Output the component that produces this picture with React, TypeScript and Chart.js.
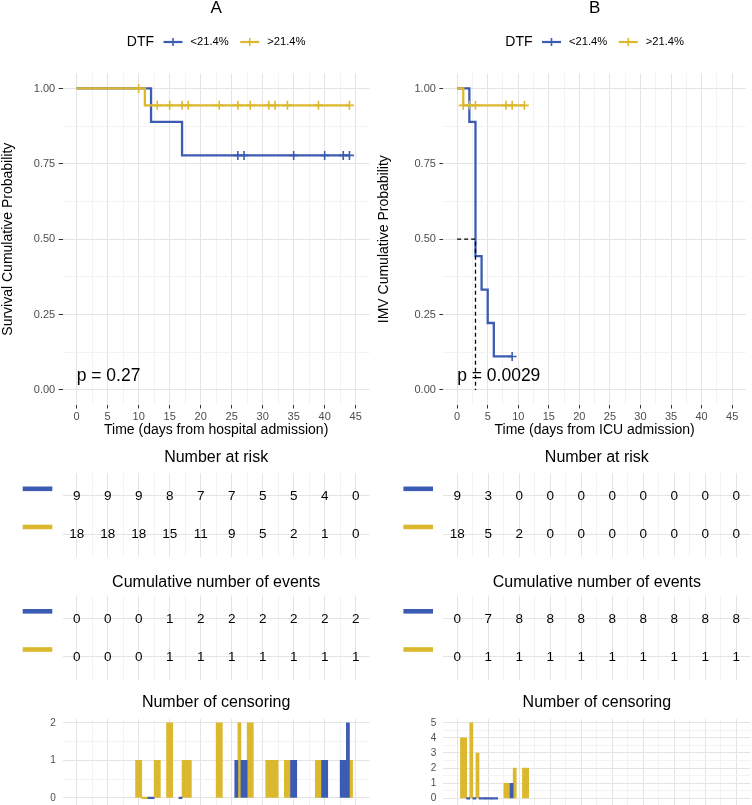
import React, { useEffect, useRef } from 'react';
import { Chart, registerables } from 'chart.js';

Chart.register(...registerables);

const FONT = '"Liberation Sans", Arial, Helvetica, sans-serif';
Chart.defaults.font.family = FONT;

const BLUE = '#3C5CB3';
const YELLOW = '#DBB82D';
const GRID_MAJOR = '#E4E4E4';
const GRID_MINOR = '#F0F0F0';
const AXIS_TEXT = '#4D4D4D';
const TICK_MARK = '#333333';

// ---------- shared labels / breaks ----------
const legendTitle = 'DTF';
const strataLabels = ['<21.4%', '>21.4%'];
const timeBreaks = [0, 5, 10, 15, 20, 25, 30, 35, 40, 45];
const survBreaks = [0, 0.25, 0.5, 0.75, 1];

// ---------- Panel A (hospital admission) ----------
const aTitle = 'A';
const aYTitle = 'Survival Cumulative Probability';
const aXTitle = 'Time (days from hospital admission)';
const aPText = 'p = 0.27';
const aBlueKmTimes = [0, 12, 17, 44];
const aBlueKmSurv = [1, 0.889, 0.778, 0.778];
const aYellowKmTimes = [0, 11, 44];
const aYellowKmSurv = [1, 0.944, 0.944];
const aBlueCensorTimes = [26, 27, 35, 40, 43, 44];
const aBlueCensorSurv = [0.778, 0.778, 0.778, 0.778, 0.778, 0.778];
const aYellowCensorTimes = [10, 13, 15, 17, 18, 23, 26, 28, 31, 32, 34, 39, 44];
const aYellowCensorSurv = [1, 0.944, 0.944, 0.944, 0.944, 0.944, 0.944, 0.944, 0.944, 0.944, 0.944, 0.944, 0.944];
const aRiskBlue = [9, 9, 9, 8, 7, 7, 5, 5, 4, 0];
const aRiskYellow = [18, 18, 18, 15, 11, 9, 5, 2, 1, 0];
const aEventsBlue = [0, 0, 0, 1, 2, 2, 2, 2, 2, 2];
const aEventsYellow = [0, 0, 0, 1, 1, 1, 1, 1, 1, 1];
const aCensorTimes = [10, 11, 12, 13, 15, 17, 18, 23, 26, 27, 28, 31, 32, 34, 35, 39, 40, 43, 44];
const aCensorBlue = [null, null, 0, null, null, 0, null, null, 1, 1, null, null, null, null, 1, null, 1, 1, 2];
const aCensorYellow = [1, 0, null, 1, 2, 1, 1, 2, 2, null, 2, 1, 1, 1, null, 1, null, null, 1];
const aCensorBreaks = [0, 1, 2];

// ---------- Panel B (ICU admission) ----------
const bTitle = 'B';
const bYTitle = 'IMV Cumulative Probability';
const bXTitle = 'Time (days from ICU admission)';
const bPText = 'p = 0.0029';
const bBlueKmTimes = [0, 2, 3, 4, 5, 6, 9];
const bBlueKmSurv = [1, 0.889, 0.444, 0.333, 0.222, 0.111, 0.111];
const bYellowKmTimes = [0, 1, 11];
const bYellowKmSurv = [1, 0.944, 0.944];
const bBlueCensorTimes = [9];
const bBlueCensorSurv = [0.111];
const bYellowCensorTimes = [1, 2, 3, 8, 9, 11];
const bYellowCensorSurv = [0.944, 0.944, 0.944, 0.944, 0.944, 0.944];
const bMedianTime = 3;
const bMedianSurv = 0.5;
const bRiskBlue = [9, 3, 0, 0, 0, 0, 0, 0, 0, 0];
const bRiskYellow = [18, 5, 2, 0, 0, 0, 0, 0, 0, 0];
const bEventsBlue = [0, 7, 8, 8, 8, 8, 8, 8, 8, 8];
const bEventsYellow = [0, 1, 1, 1, 1, 1, 1, 1, 1, 1];
const bCensorTimes = [1, 2, 3, 4, 5, 6, 8, 9, 11];
const bCensorBlue = [null, 0, 0, 0, 0, 0, null, 1, null];
const bCensorYellow = [4, 5, 3, null, null, null, 1, 2, 2];
const bCensorBreaks = [0, 1, 2, 3, 4, 5];

const pLabelY = 0.047;

// ---------- helpers ----------
const withMinor = (breaks: number[]) => {
  const out: number[] = [];
  breaks.forEach((b, i) => {
    out.push(b);
    if (i < breaks.length - 1) out.push((b + breaks[i + 1]) / 2);
  });
  return out;
};
const inBreaks = (breaks: number[], v: number) => breaks.some((b) => Math.abs(b - v) < 1e-9);
const expand = (breaks: number[]) => {
  const lo = breaks[0];
  const hi = breaks[breaks.length - 1];
  const d = (hi - lo) * 0.05;
  return { min: lo - d, max: hi + d };
};

function timeAxis(o: any) {
  const r = expand(timeBreaks);
  return {
    type: 'linear',
    min: r.min,
    max: r.max,
    offset: false,
    afterBuildTicks: (s: any) => {
      s.ticks = withMinor(timeBreaks).map((v) => ({ value: v }));
    },
    afterFit: (s: any) => {
      s.height = o.height;
    },
    border: { display: false },
    grid: {
      offset: false,
      color: (c: any) => (c.tick && inBreaks(timeBreaks, c.tick.value) ? GRID_MAJOR : GRID_MINOR),
      lineWidth: (c: any) => (c.tick && inBreaks(timeBreaks, c.tick.value) ? 1 : 0.8),
      drawTicks: !!o.tickLen,
      tickLength: o.tickLen || 0,
      tickWidth: 1,
      tickColor: (c: any) =>
        o.tickDark
          ? c.tick && inBreaks(timeBreaks, c.tick.value)
            ? TICK_MARK
            : 'rgba(0,0,0,0)'
          : c.tick && inBreaks(timeBreaks, c.tick.value)
          ? GRID_MAJOR
          : GRID_MINOR,
    },
    ticks: {
      display: !!o.labels,
      autoSkip: false,
      maxRotation: 0,
      padding: 1.5,
      font: { family: FONT, size: 11 },
      color: AXIS_TEXT,
      callback: (v: number) => (inBreaks(timeBreaks, v) ? String(v) : ''),
    },
    title: o.title
      ? {
          display: true,
          text: o.title,
          color: '#000',
          font: { family: FONT, size: 14 },
          padding: { top: 0, bottom: 6.6 },
        }
      : { display: false },
  };
}

function drawKey(ctx: any, x: number, y: number, w: number, color: string) {
  ctx.strokeStyle = color;
  ctx.lineWidth = 2.2;
  ctx.beginPath();
  ctx.moveTo(x, y);
  ctx.lineTo(x + w, y);
  ctx.stroke();
  ctx.lineWidth = 1.6;
  ctx.beginPath();
  ctx.moveTo(x + w / 2, y - 4);
  ctx.lineTo(x + w / 2, y + 4);
  ctx.stroke();
}

function drawLegend(ctx: any, cx: number, y: number) {
  const colors = [BLUE, YELLOW];
  ctx.font = `14px ${FONT}`;
  const wT = ctx.measureText(legendTitle).width;
  ctx.font = `11.2px ${FONT}`;
  const wl = strataLabels.map((s) => ctx.measureText(s).width);
  const symW = 19;
  const gapTitle = 9.5;
  const gapSym = 8;
  const gapItem = 11.5;
  let total = wT + gapTitle;
  strataLabels.forEach((_, i) => {
    total += symW + gapSym + wl[i] + (i < strataLabels.length - 1 ? gapItem : 0);
  });
  let x = cx - total / 2;
  ctx.fillStyle = '#000';
  ctx.textAlign = 'left';
  ctx.textBaseline = 'middle';
  ctx.font = `14px ${FONT}`;
  ctx.fillText(legendTitle, x, y);
  x += wT + gapTitle;
  ctx.font = `11.2px ${FONT}`;
  strataLabels.forEach((s, i) => {
    drawKey(ctx, x, y, symW, colors[i]);
    x += symW + gapSym;
    ctx.fillStyle = '#000';
    ctx.fillText(s, x, y);
    x += wl[i] + gapItem;
  });
}

function makeDecor(d: any) {
  return {
    id: 'ggDecor',
    afterDatasetsDraw(chart: any) {
      const { ctx, chartArea: ca } = chart;
      const cx = (ca.left + ca.right) / 2;
      ctx.save();
      ctx.textBaseline = 'middle';
      if (d.title) {
        ctx.font = `${d.titleSize}px ${FONT}`;
        ctx.fillStyle = '#000';
        ctx.textAlign = 'center';
        ctx.fillText(d.title, cx, d.titleY);
      }
      if (d.legendY != null) drawLegend(ctx, cx, d.legendY);
      if (d.pText) {
        ctx.font = `17.5px ${FONT}`;
        ctx.fillStyle = '#000';
        ctx.textAlign = 'left';
        ctx.textBaseline = 'middle';
        ctx.fillText(d.pText, chart.scales.x.getPixelForValue(0), chart.scales.y.getPixelForValue(d.pY));
      }
      if (d.rowColors) {
        d.rowColors.forEach((c: string, i: number) => {
          const y = chart.scales.y.getPixelForValue(i + 1);
          ctx.fillStyle = c;
          ctx.fillRect(ca.left - 40, y - 9.4, 29.6, 4.6);
        });
      }
      if (d.numbers) {
        ctx.font = `13.5px ${FONT}`;
        ctx.fillStyle = '#000';
        ctx.textAlign = 'center';
        ctx.textBaseline = 'middle';
        chart.data.datasets.forEach((ds: any, i: number) => {
          chart.getDatasetMeta(i).data.forEach((el: any, j: number) => {
            ctx.fillText(String(ds.data[j].n), el.x, el.y + 0.5);
          });
        });
      }
      ctx.restore();
    },
  };
}

const basePlugins = { legend: { display: false }, tooltip: { enabled: false }, title: { display: false } };

function kmConfig(p: any) {
  const datasets: any[] = [];
  if (p.median) {
    datasets.push({
      data: [
        { x: 0, y: p.median.s },
        { x: p.median.t, y: p.median.s },
        { x: p.median.t, y: 0 },
      ],
      borderColor: '#000',
      borderWidth: 1.3,
      borderDash: [4, 3],
      pointRadius: 0,
      fill: false,
      order: 0,
    });
  }
  p.censors.forEach((c: any) => {
    datasets.push({
      data: c.t.map((t: number, i: number) => ({ x: t, y: c.s[i] })),
      showLine: false,
      pointStyle: 'cross',
      pointRadius: 4.5,
      pointBorderWidth: 1.6,
      pointBorderColor: c.color,
      pointBackgroundColor: c.color,
      borderColor: c.color,
      order: 1,
    });
  });
  p.curves.forEach((c: any, k: number) => {
    datasets.push({
      data: c.t.map((t: number, i: number) => ({ x: t, y: c.s[i] })),
      borderColor: c.color,
      borderWidth: 2.3,
      stepped: 'before',
      pointRadius: 0,
      fill: false,
      order: 2 + k,
    });
  });
  const yr = expand(survBreaks);
  return {
    type: 'line',
    data: { datasets },
    options: {
      responsive: false,
      animation: false,
      events: [],
      layout: { padding: { left: 0, right: p.padR, top: 73.4, bottom: 0 } },
      plugins: basePlugins,
      scales: {
        x: timeAxis({ height: 40, labels: true, tickLen: 3.5, tickDark: true, title: p.xTitle }),
        y: {
          type: 'linear',
          min: yr.min,
          max: yr.max,
          afterBuildTicks: (s: any) => {
            s.ticks = withMinor(survBreaks).map((v) => ({ value: v }));
          },
          afterFit: (s: any) => {
            s.width = p.axisW;
          },
          border: { display: false },
          grid: {
            color: (c: any) => (c.tick && inBreaks(survBreaks, c.tick.value) ? GRID_MAJOR : GRID_MINOR),
            lineWidth: (c: any) => (c.tick && inBreaks(survBreaks, c.tick.value) ? 1 : 0.8),
            drawTicks: true,
            tickLength: 4,
            tickWidth: 1,
            tickColor: (c: any) => (c.tick && inBreaks(survBreaks, c.tick.value) ? TICK_MARK : 'rgba(0,0,0,0)'),
          },
          ticks: {
            autoSkip: false,
            padding: 3.5,
            font: { family: FONT, size: 11 },
            color: AXIS_TEXT,
            callback: (v: number) => (inBreaks(survBreaks, v) ? v.toFixed(2) : ''),
          },
          title: {
            display: true,
            text: p.yTitle,
            color: '#000',
            font: { family: FONT, size: 14 },
            padding: { top: 0, bottom: 0 },
          },
        },
      },
    },
    plugins: [makeDecor({ title: p.title, titleY: 8.5, titleSize: 17, legendY: 42, pText: p.pText, pY: pLabelY })],
  };
}

function tableConfig(p: any, rows: number[][], title: string, padTop: number, padBottom: number) {
  const colors = [BLUE, YELLOW];
  return {
    type: 'scatter',
    data: {
      datasets: rows.map((vals, i) => ({
        data: timeBreaks.map((t, j) => ({ x: t, y: i + 1, n: vals[j] })),
        pointRadius: 0,
        pointHoverRadius: 0,
      })),
    },
    options: {
      responsive: false,
      animation: false,
      events: [],
      layout: { padding: { left: 0, right: p.padR, top: padTop, bottom: padBottom } },
      plugins: basePlugins,
      scales: {
        x: timeAxis({ height: 0 }),
        y: {
          type: 'linear',
          min: 0.4,
          max: rows.length + 0.6,
          reverse: true,
          afterBuildTicks: (s: any) => {
            s.ticks = rows.map((_, i) => ({ value: i + 1 }));
          },
          afterFit: (s: any) => {
            s.width = p.axisW;
          },
          border: { display: false },
          grid: { color: GRID_MAJOR, lineWidth: 1, drawTicks: false },
          ticks: { display: false },
        },
      },
    },
    plugins: [makeDecor({ title, titleY: 17.5, titleSize: 16, numbers: true, rowColors: colors })],
  };
}

function censorConfig(p: any, times: any[], blue: any[], yellow: any[], breaks: number[]) {
  const yr = expand(breaks);
  const mk = (vals: any[], color: string) => ({
    data: times.map((t, i) => ({ x: t, y: vals[i] })),
    backgroundColor: color,
    borderWidth: 0,
    skipNull: true,
    categoryPercentage: 1,
    barPercentage: 1,
    minBarLength: 1.5,
  });
  return {
    type: 'bar',
    data: { datasets: [mk(blue, BLUE), mk(yellow, YELLOW)] },
    options: {
      responsive: false,
      animation: false,
      events: [],
      layout: { padding: { left: 0, right: p.padR, top: 34, bottom: p.censorPadBottom } },
      plugins: basePlugins,
      scales: {
        x: timeAxis({ height: 0, tickLen: 8 }),
        y: {
          type: 'linear',
          min: yr.min,
          max: yr.max,
          afterBuildTicks: (s: any) => {
            s.ticks = withMinor(breaks).map((v) => ({ value: v }));
          },
          afterFit: (s: any) => {
            s.width = p.axisW;
          },
          border: { display: false },
          grid: {
            color: (c: any) => (c.tick && inBreaks(breaks, c.tick.value) ? GRID_MAJOR : GRID_MINOR),
            lineWidth: (c: any) => (c.tick && inBreaks(breaks, c.tick.value) ? 1 : 0.8),
            drawTicks: false,
          },
          ticks: {
            autoSkip: false,
            padding: 7,
            font: { family: FONT, size: 10 },
            color: AXIS_TEXT,
            callback: (v: number) => (inBreaks(breaks, v) ? String(v) : ''),
          },
        },
      },
    },
    plugins: [makeDecor({ title: 'Number of censoring', titleY: 18, titleSize: 16 })],
  };
}

// ---------- panels ----------
const panelA = {
  left: 0,
  axisW: 62.7,
  padR: 6.4,
  censorPadBottom: 23.3,
  title: aTitle,
  yTitle: aYTitle,
  xTitle: aXTitle,
  pText: aPText,
  curves: [
    { t: aYellowKmTimes, s: aYellowKmSurv, color: YELLOW },
    { t: aBlueKmTimes, s: aBlueKmSurv, color: BLUE },
  ],
  censors: [
    { t: aYellowCensorTimes, s: aYellowCensorSurv, color: YELLOW },
    { t: aBlueCensorTimes, s: aBlueCensorSurv, color: BLUE },
  ],
  median: null,
  risk: [aRiskBlue, aRiskYellow],
  events: [aEventsBlue, aEventsYellow],
  censor: { times: aCensorTimes, blue: aCensorBlue, yellow: aCensorYellow, breaks: aCensorBreaks },
};

const panelB = {
  left: 376,
  axisW: 67.4,
  padR: 1.7,
  censorPadBottom: 22.9,
  title: bTitle,
  yTitle: bYTitle,
  xTitle: bXTitle,
  pText: bPText,
  curves: [
    { t: bYellowKmTimes, s: bYellowKmSurv, color: YELLOW },
    { t: bBlueKmTimes, s: bBlueKmSurv, color: BLUE },
  ],
  censors: [
    { t: bYellowCensorTimes, s: bYellowCensorSurv, color: YELLOW },
    { t: bBlueCensorTimes, s: bBlueCensorSurv, color: BLUE },
  ],
  median: { t: bMedianTime, s: bMedianSurv },
  risk: [bRiskBlue, bRiskYellow],
  events: [bEventsBlue, bEventsYellow],
  censor: { times: bCensorTimes, blue: bCensorBlue, yellow: bCensorYellow, breaks: bCensorBreaks },
};

function ChartCanvas({ x, y, w, h, make }: any) {
  const ref = useRef<HTMLCanvasElement>(null);
  useEffect(() => {
    const chart = new Chart(ref.current as HTMLCanvasElement, make() as any);
    return () => chart.destroy();
  }, []);
  return (
    <canvas
      ref={ref}
      width={w}
      height={h}
      style={{ position: 'absolute', left: x, top: y, width: w, height: h, display: 'block' }}
    />
  );
}

function PanelCharts({ p }: any) {
  return (
    <>
      <ChartCanvas x={p.left} y={0} w={376} h={445} make={() => kmConfig(p)} />
      <ChartCanvas x={p.left} y={440} w={376} h={125} make={() => tableConfig(p, p.risk, 'Number at risk', 33, 8)} />
      <ChartCanvas
        x={p.left}
        y={565}
        w={376}
        h={120}
        make={() => tableConfig(p, p.events, 'Cumulative number of events', 30.5, 5.5)}
      />
      <ChartCanvas
        x={p.left}
        y={685}
        w={376}
        h={140}
        make={() => censorConfig(p, p.censor.times, p.censor.blue, p.censor.yellow, p.censor.breaks)}
      />
    </>
  );
}

export default function App() {
  return (
    <div
      style={{
        position: 'absolute',
        left: 0,
        top: 0,
        width: 752,
        height: 805,
        overflow: 'hidden',
        background: '#fff',
      }}
    >
      <PanelCharts p={panelA} />
      <PanelCharts p={panelB} />
    </div>
  );
}
